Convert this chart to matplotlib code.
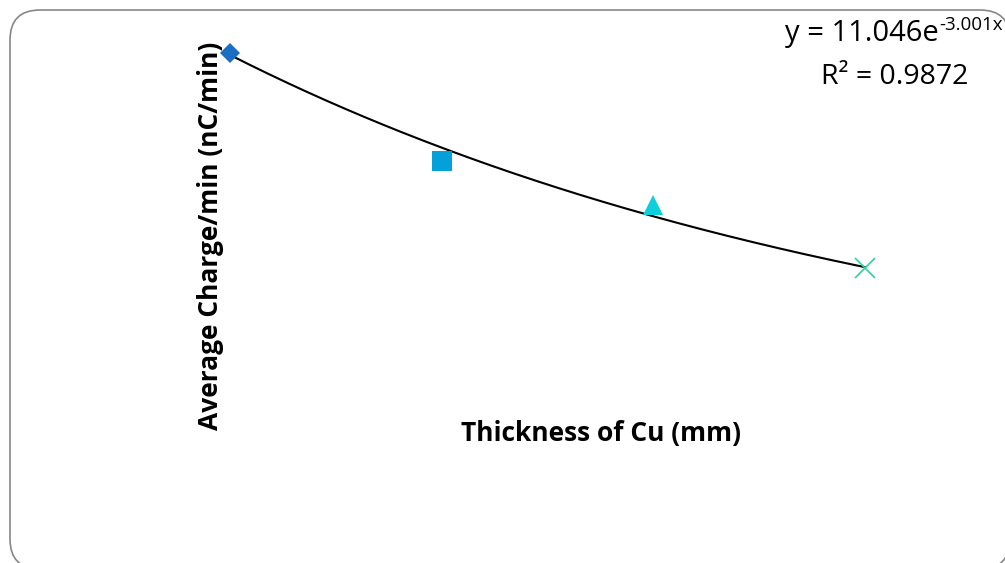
import matplotlib.pyplot as plt
import numpy as np
from matplotlib.patches import FancyBboxPatch
from matplotlib.transforms import IdentityTransform

plt.rcParams['font.family'] = ['Open Sans', 'DejaVu Sans']

# measured points
thickness = [0.1, 0.2, 0.3, 0.4]
charge = [8.23, 5.75, 4.75, 3.31]
markers = ['D', 's', '^', 'x']
colors = ['#1a6fc4', '#03a0d9', '#0dcfdb', '#2fd39c']
sizes = [10.5, 14, 14, 14]

# exponential trend line parameters
fit_a = 11.046
fit_b = -3.001
r_squared = 0.9872

W, H = 1005, 563
fig = plt.figure(figsize=(W / 100, H / 100), dpi=100)

# rounded outer frame, in pixels (origin bottom-left); right side runs off the canvas.
# filled so agg does not clip the outline onto the canvas edge
frame = FancyBboxPatch((10, -6), 1000, H - 10 + 6,
                       boxstyle="round,pad=0,rounding_size=30",
                       transform=IdentityTransform(), facecolor='white',
                       edgecolor='#878787', linewidth=1.2, zorder=-1)
fig.patches.append(frame)

ax = fig.add_axes([230 / W, 1 - 412.5 / H, 635 / W, (412.5 - 19.2) / H])
ax.set_xlim(0.1, 0.4)
ax.set_ylim(0, 9)
ax.axis('off')

xs = np.linspace(thickness[0], thickness[-1], 200)
ax.plot(xs, fit_a * np.exp(fit_b * xs), color='black', linewidth=1.5,
        zorder=2, clip_on=False)

for x, y, m, c, s in zip(thickness, charge, markers, colors, sizes):
    if m == 'x':
        ax.plot(x, y, marker=m, color=c, markersize=s, markeredgewidth=1.2,
                linestyle='none', zorder=3, clip_on=False)
    else:
        ax.plot(x, y, marker=m, color=c, markersize=s, markeredgewidth=0,
                linestyle='none', zorder=3, clip_on=False)

fig.text(210 / W, 1 - 236 / H, "Average Charge/min (nC/min)", rotation=90,
         ha='center', va='center', fontsize=19, fontweight='bold')
fig.text(601 / W, 1 - 433 / H, "Thickness of Cu (mm)",
         ha='center', va='center', fontsize=19, fontweight='bold')

# trend line equation, exponent drawn as a raised smaller text
eq = fig.text(785 / W, 1 - 33 / H, "y = %.3fe" % fit_a,
              ha='left', va='center', fontsize=21)
fig.canvas.draw()
bb = eq.get_window_extent()
fig.text(bb.x1 / W, 1 - 25 / H, "%.3fx" % fit_b,
         ha='left', va='center', fontsize=13.5)
fig.text(895 / W, 1 - 77 / H, "R² = %.4f" % r_squared,
         ha='center', va='center', fontsize=20.5)

fig.savefig('out.png', dpi=100, facecolor='white')
